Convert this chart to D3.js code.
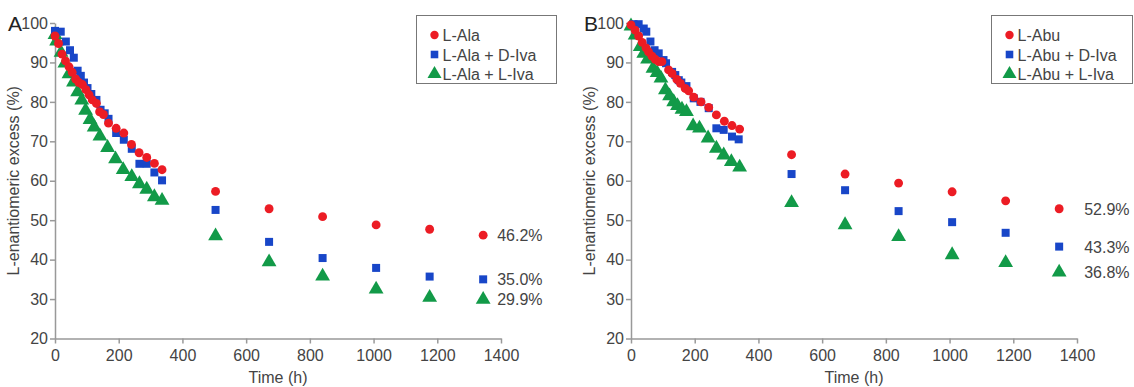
<!DOCTYPE html>
<meta charset="utf-8">
<style type="text/css">
body { margin: 0; background: #fff; }
svg text { font-family: 'Liberation Sans', Arial, sans-serif; fill: #444; }
.axis path, .axis line { stroke: #999; stroke-width: 1.5; }
.axis text { font-size: 16px; fill: #444; }
.legend-box { fill: #fff; stroke: #777; stroke-width: 1; }
</style>
<body>
<div class="g-chart"></div>
<script src="https://cdnjs.cloudflare.com/ajax/libs/d3/7.8.5/d3.min.js"></script>
<script type="text/javascript">

// ---- data ----
var xTicks = [0, 200, 400, 600, 800, 1000, 1200, 1400];
var yTicks = [20, 30, 40, 50, 60, 70, 80, 90, 100];

// panel A
var aLabels = ["L-Ala", "L-Ala + D-Iva", "L-Ala + L-Iva"];
var aRedT = [0,11,22,33,44,54,65,75,86,97,107,117,130,140,152,168,192,216,240,264,288,312,336,504,672,840,1008,1176,1344];
var aRedV = [96.7,94.8,92.1,90.4,88.9,87.5,85.8,84.9,84.4,83.1,81.8,80.5,79.6,77.5,76.8,74.6,73.3,72.1,69.2,67.1,65.9,64.4,62.8,57.3,52.9,50.9,48.8,47.7,46.2];
var aBlueT = [0,18,34,47,59,71,81,91,102,114,130,143,156,168,192,216,241,265,288,312,336,504,672,840,1008,1176,1344];
var aBlueV = [98.0,97.8,95.3,93.1,91.2,87.9,86.6,84.9,83.5,82.0,80.5,78.0,77.1,75.7,72.1,70.4,68.1,64.3,64.3,62.1,60.1,52.6,44.5,40.4,37.9,35.7,35.0];
var aGreenT = [0,5,19,31,44,58,71,84,96,110,123,141,165,190,214,241,265,288,312,336,504,672,840,1008,1176,1344];
var aGreenV = [97.0,95.4,92.5,89.8,87.1,85.0,82.5,80.4,77.8,75.5,73.6,71.3,68.4,65.5,62.8,61.0,59.2,57.8,55.9,55.0,46.0,39.4,35.8,32.5,30.4,29.9];
var aFinal = ["46.2%", "35.0%", "29.9%"];

// panel B
var bLabels = ["L-Abu", "L-Abu + D-Iva", "L-Abu + L-Iva"];
var bRedT = [0,13,24,35,47,55,66,76,87,97,118,129,144,155,170,181,197,220,244,268,293,317,341,504,672,840,1008,1176,1344];
var bRedV = [99.5,98.2,96.7,95.1,93.7,92.7,91.6,90.8,90.2,90.2,88.1,87.2,85.7,84.7,83.4,82.8,81.2,80.0,78.6,76.7,75.1,74.0,73.1,66.6,61.7,59.4,57.2,54.9,52.9];
var bBlueT = [8,24,40,48,61,74,87,102,110,129,139,150,158,174,197,218,244,268,291,317,338,504,672,840,1008,1176,1344];
var bBlueV = [99.7,99.7,98.6,97.8,95.3,93.1,92.3,90.6,89.8,87.6,86.8,85.5,84.9,84.0,80.9,80.0,78.4,73.3,72.9,71.2,70.5,61.7,57.6,52.3,49.5,46.8,43.3];
var bGreenT = [0,13,29,40,52,69,82,94,108,121,134,146,160,174,195,215,242,268,291,315,341,504,672,840,1008,1176,1344];
var bGreenV = [99.2,96.9,94.0,92.3,90.8,88.5,87.4,86.0,83.0,81.5,80.0,79.0,78.1,77.5,73.9,73.3,70.8,68.2,66.5,64.8,63.4,54.4,48.8,45.8,41.2,39.2,36.8];
var bFinal = ["52.9%", "43.3%", "36.8%"];

var colors = ["#ec1c24", "#1846c8", "#129a48"];
var shapes = [d3.symbolCircle, d3.symbolSquare, d3.symbolTriangle];
var sizes = [62, 64, 95];

var svg = d3.select(".g-chart").append("svg")
  .attr("width", 1134)
  .attr("height", 387);

function pairs(t, v) { return t.map(function(d, i) { return [d, v[i]]; }); }

function drawPanel(o) {
  var x = d3.scaleLinear().domain([0, 1400]).range([o.left, o.left + 446]);
  var y = d3.scaleLinear().domain([20, 100]).range([338.5, 23]);

  svg.append("g").attr("class", "axis")
    .attr("transform", "translate(0,338.5)")
    .call(d3.axisBottom(x).tickValues(xTicks).tickFormat(d3.format("d"))
      .tickSize(5).tickSizeOuter(0).tickPadding(6));

  svg.append("g").attr("class", "axis")
    .attr("transform", "translate(" + o.left + ",0)")
    .call(d3.axisLeft(y).tickValues(yTicks).tickSize(5).tickSizeOuter(0).tickPadding(2));

  // titles
  svg.append("text")
    .attr("x", (x(0) + x(1400)) / 2).attr("y", 383)
    .attr("text-anchor", "middle").style("font-size", "16px")
    .text("Time (h)");
  svg.append("text")
    .attr("transform", "translate(" + (o.left - 36) + "," + y(60) + ") rotate(-90)")
    .attr("text-anchor", "middle").style("font-size", "16px")
    .text("L-enantiomeric excess (%)");
  svg.append("text")
    .attr("x", o.left - 47).attr("y", 31)
    .style("font-size", "21px").style("fill", "#222")
    .text(o.letter);

  // points: green first, red on top
  [2, 1, 0].forEach(function(k) {
    var s = o.series[k];
    svg.append("g").selectAll("path")
      .data(s)
      .enter().append("path")
      .attr("transform", function(d) { return "translate(" + x(d[0]) + "," + y(d[1]) + ")"; })
      .attr("d", d3.symbol().type(shapes[k]).size(sizes[k]))
      .style("fill", colors[k]);

    var last = s[s.length - 1];
    svg.append("text")
      .attr("x", x(last[0]) + o.labOff).attr("y", y(last[1]) + 6)
      .style("font-size", "16px")
      .text(o.finals[k]);
  });

  // legend
  svg.append("rect").attr("class", "legend-box")
    .attr("x", o.legX).attr("y", 15.5).attr("width", o.legW).attr("height", 68);
  o.labels.forEach(function(l, k) {
    var ly = 35 + k * 19.5;
    svg.append("path")
      .attr("transform", "translate(" + (o.legX + 18) + "," + ly + ")")
      .attr("d", d3.symbol().type(shapes[k]).size(sizes[k] * 0.9))
      .style("fill", colors[k]);
    svg.append("text")
      .attr("x", o.legX + 26).attr("y", ly + 6)
      .style("font-size", "16px")
      .text(l);
  });
}

drawPanel({
  left: 55, letter: "A", labOff: 14, legX: 416.5, legW: 140, labels: aLabels, finals: aFinal,
  series: [pairs(aRedT, aRedV), pairs(aBlueT, aBlueV), pairs(aGreenT, aGreenV)]
});
drawPanel({
  left: 631, letter: "B", labOff: 25, legX: 991.5, legW: 141, labels: bLabels, finals: bFinal,
  series: [pairs(bRedT, bRedV), pairs(bBlueT, bBlueV), pairs(bGreenT, bGreenV)]
});

</script>
</body>
